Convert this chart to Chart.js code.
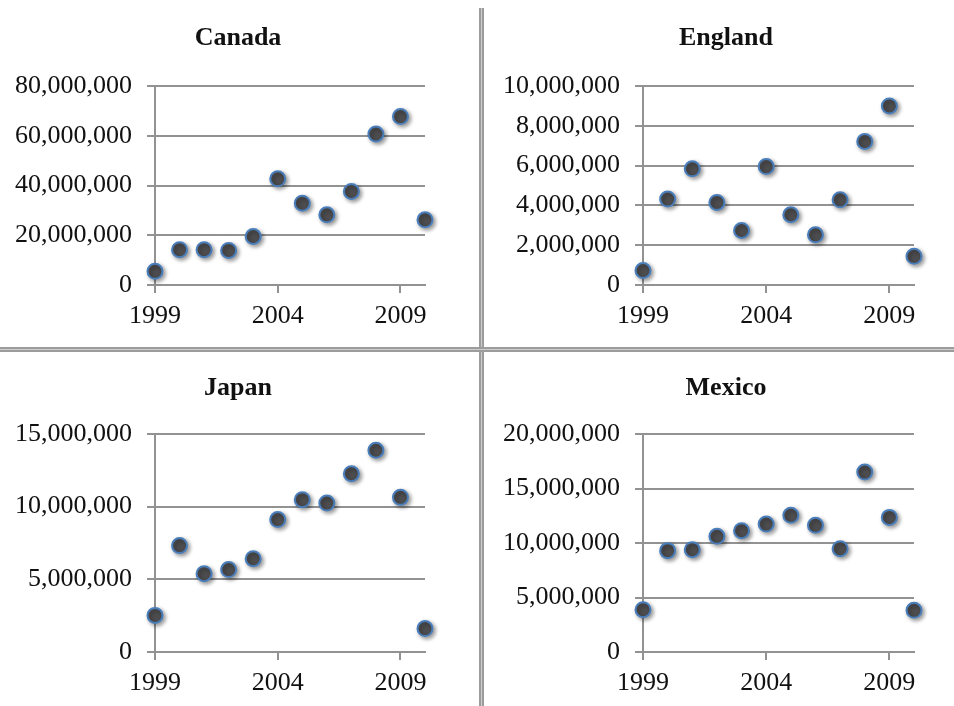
<!DOCTYPE html>
<html>
<head>
<meta charset="utf-8">
<script src="https://cdn.jsdelivr.net/npm/chart.js@4"></script>
<style>
html, body { margin:0; padding:0; background:#fff; overflow:hidden; }
#wrap { position:relative; width:954px; height:706px; }
.box { position:absolute; }
.ttl { position:absolute; font-family:"Liberation Serif", "Times New Roman", serif; font-weight:bold; font-size:26px; color:#111; text-align:center; width:200px; }
.vline { position:absolute; left:479px; top:8px; width:1px; height:698px; background:#ccc; border-left:2px solid #9c9c9c; border-right:2px solid #9c9c9c; }
.hline { position:absolute; left:0; top:347px; width:954px; height:1px; background:#ccc; border-top:2px solid #9c9c9c; border-bottom:2px solid #9c9c9c; }
</style>
</head>
<body>
<div id="wrap">
  <div class="box" style="left:0;top:0;width:478px;height:347px"><canvas id="c0"></canvas></div>
  <div class="box" style="left:484px;top:0;width:470px;height:347px"><canvas id="c1"></canvas></div>
  <div class="box" style="left:0;top:352px;width:478px;height:354px"><canvas id="c2"></canvas></div>
  <div class="box" style="left:484px;top:352px;width:470px;height:354px"><canvas id="c3"></canvas></div>
  <div class="ttl" style="left:138px;top:22px">Canada</div>
  <div class="ttl" style="left:626px;top:22px">England</div>
  <div class="ttl" style="left:138px;top:372px">Japan</div>
  <div class="ttl" style="left:626px;top:372px">Mexico</div>
  <div class="vline"></div>
  <div class="hline"></div>
</div>
<script>
var years = [1999, 2000, 2001, 2002, 2003, 2004, 2005, 2006, 2007, 2008, 2009, 2010];
var yearTicks = [1999, 2004, 2009];

var canada  = [5500000, 14200000, 14200000, 13900000, 19500000, 42700000, 32900000, 28200000, 37600000, 60700000, 67700000, 26200000];
var england = [730000, 4320000, 5840000, 4150000, 2740000, 5950000, 3530000, 2520000, 4280000, 7210000, 9000000, 1440000];
var japan   = [2520000, 7320000, 5390000, 5670000, 6420000, 9110000, 10480000, 10250000, 12270000, 13880000, 10640000, 1610000];
var mexico  = [3880000, 9300000, 9390000, 10610000, 11130000, 11740000, 12540000, 11620000, 9480000, 16510000, 12350000, 3820000];

var canadaMax = 80000000, canadaStep = 20000000;
var englandMax = 10000000, englandStep = 2000000;
var japanMax = 15000000, japanStep = 5000000;
var mexicoMax = 20000000, mexicoStep = 5000000;

var serif = '"Liberation Serif", "Times New Roman", serif';
var gridGray = '#929292';

var shadow = {
    id: 'markerShadow',
    beforeDatasetDraw: function(chart){
        var ctx = chart.ctx;
        ctx.save();
        ctx.shadowColor = 'rgba(0,0,0,0.4)';
        ctx.shadowBlur = 4;
        ctx.shadowOffsetX = 2;
        ctx.shadowOffsetY = 2;
    },
    afterDatasetDraw: function(chart){
        chart.ctx.restore();
    }
};

function makeChart(id, values, max, step, yWidth, pad){
    var pts = years.map(function(y, i){ return {x: y, y: values[i]}; });
    return new Chart(document.getElementById(id), {
        type: 'scatter',
        data: {
            datasets: [{
                data: pts,
                pointRadius: 7.5,
                pointHoverRadius: 7.5,
                pointBackgroundColor: '#4d4d4f',
                pointBorderColor: '#4a7ebb',
                pointBorderWidth: 2,
                clip: false
            }]
        },
        options: {
            responsive: true,
            maintainAspectRatio: false,
            animation: false,
            events: [],
            layout: {padding: pad},
            plugins: {legend: {display: false}, tooltip: {enabled: false}, title: {display: false}},
            scales: {
                x: {
                    type: 'linear',
                    min: years[0],
                    max: years[years.length - 1],
                    afterBuildTicks: function(s){
                        s.ticks = yearTicks.map(function(v){ return {value: v}; });
                    },
                    afterFit: function(s){ s.height = 40; },
                    grid: {drawOnChartArea: false, drawTicks: true, tickLength: 8, color: gridGray, lineWidth: 2},
                    border: {display: true, color: gridGray, width: 2},
                    ticks: {
                        font: {family: serif, size: 26},
                        color: '#111',
                        padding: 8,
                        maxRotation: 0,
                        autoSkip: false,
                        callback: function(v){ return String(v); }
                    }
                },
                y: {
                    min: 0,
                    max: max,
                    afterFit: function(s){ s.width = yWidth; },
                    grid: {color: gridGray, lineWidth: 2, tickLength: 8},
                    border: {display: true, color: gridGray, width: 2},
                    ticks: {
                        stepSize: step,
                        font: {family: serif, size: 26},
                        color: '#111',
                        padding: 15,
                        callback: function(v){ return v.toLocaleString('en-US'); }
                    }
                }
            }
        },
        plugins: [shadow]
    });
}

makeChart('c0', canada, canadaMax, canadaStep, 155, {left: 0, right: 53, top: 86, bottom: 22});
makeChart('c1', england, englandMax, englandStep, 159, {left: 0, right: 40, top: 86, bottom: 22});
makeChart('c2', japan, japanMax, japanStep, 155, {left: 0, right: 53, top: 82, bottom: 14});
makeChart('c3', mexico, mexicoMax, mexicoStep, 159, {left: 0, right: 40, top: 82, bottom: 14});
</script>
</body>
</html>
